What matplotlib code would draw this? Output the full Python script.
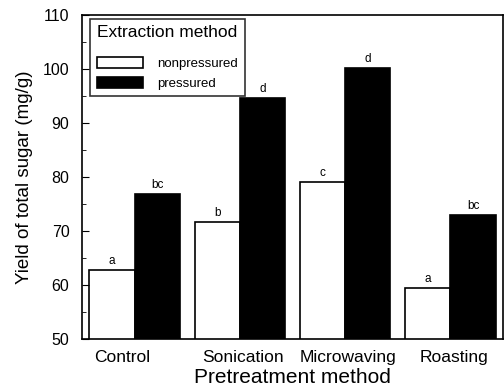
import matplotlib

matplotlib.use("Agg")
import matplotlib.pyplot as plt
import matplotlib.transforms as mtransforms
import numpy as np

plt.rcParams.update({"font.family": "Liberation Sans", "font.size": 10})

METHODS = ["Control", "Sonication", "Microwaving", "Roasting"]
NONPRESSURED = [62.7, 71.6, 79.0, 59.4]
PRESSURED = [76.9, 94.6, 100.1, 72.9]
LETTERS_NON = ["a", "b", "c", "a"]
LETTERS_PRE = ["bc", "d", "d", "bc"]

fig = plt.figure(figsize=(5.04, 3.87), dpi=100)
ax = fig.add_axes([82 / 504, 1 - 339 / 387, 421 / 504, 324 / 387])

x = np.arange(len(METHODS))
width = 0.43
ax.bar(x - width / 2, NONPRESSURED, width, color="white", edgecolor="black",
       linewidth=1.2, label="nonpressured")
ax.bar(x + width / 2, PRESSURED, width, color="black", edgecolor="black",
       linewidth=1.2, label="pressured")

# significance letters
for xi, v, t in zip(x - width / 2, NONPRESSURED, LETTERS_NON):
    ax.text(xi, v + 0.6, t, ha="center", va="bottom", fontsize=8.5)
for xi, v, t in zip(x + width / 2, PRESSURED, LETTERS_PRE):
    ax.text(xi, v + 0.6, t, ha="center", va="bottom", fontsize=8.5)

ax.set_xlim(-0.5, 3.5)
ax.set_ylim(50, 110)
ax.set_yticks(range(50, 111, 10))
ax.set_yticks(range(55, 110, 10), minor=True)
ax.tick_params(axis="y", which="major", direction="in", length=5, labelsize=11.5, pad=9)
ax.tick_params(axis="y", which="minor", direction="in", length=3)
ax.set_xticks(x)
ax.set_xticklabels(METHODS, fontsize=12.5)
ax.tick_params(axis="x", length=0, pad=8)
# the scanned original has "Control" set a bit left of its group
for lab, dx in zip(ax.get_xticklabels(), [-12, 3, 3, 4]):
    lab.set_transform(lab.get_transform()
                      + mtransforms.ScaledTranslation(dx / 100, 0, fig.dpi_scale_trans))
for s in ax.spines.values():
    s.set_linewidth(1.2)

ax.set_ylabel("Yield of total sugar (mg/g)", fontsize=13.5, labelpad=7)
ax.set_xlabel("Pretreatment method", fontsize=15, labelpad=2)

leg = ax.legend(title="Extraction method", loc="upper left", bbox_to_anchor=(0.019, 0.988),
                fontsize=9.5, title_fontsize=12.5, frameon=True, fancybox=False,
                edgecolor="black", handlelength=3.5, handleheight=0.9,
                borderpad=0.5, labelspacing=0.5, handletextpad=1.1, borderaxespad=0)
leg.get_frame().set_linewidth(1.2)
leg._legend_box.align = "left"
leg._legend_box.sep = 12

fig.savefig("out.png", dpi=100)
